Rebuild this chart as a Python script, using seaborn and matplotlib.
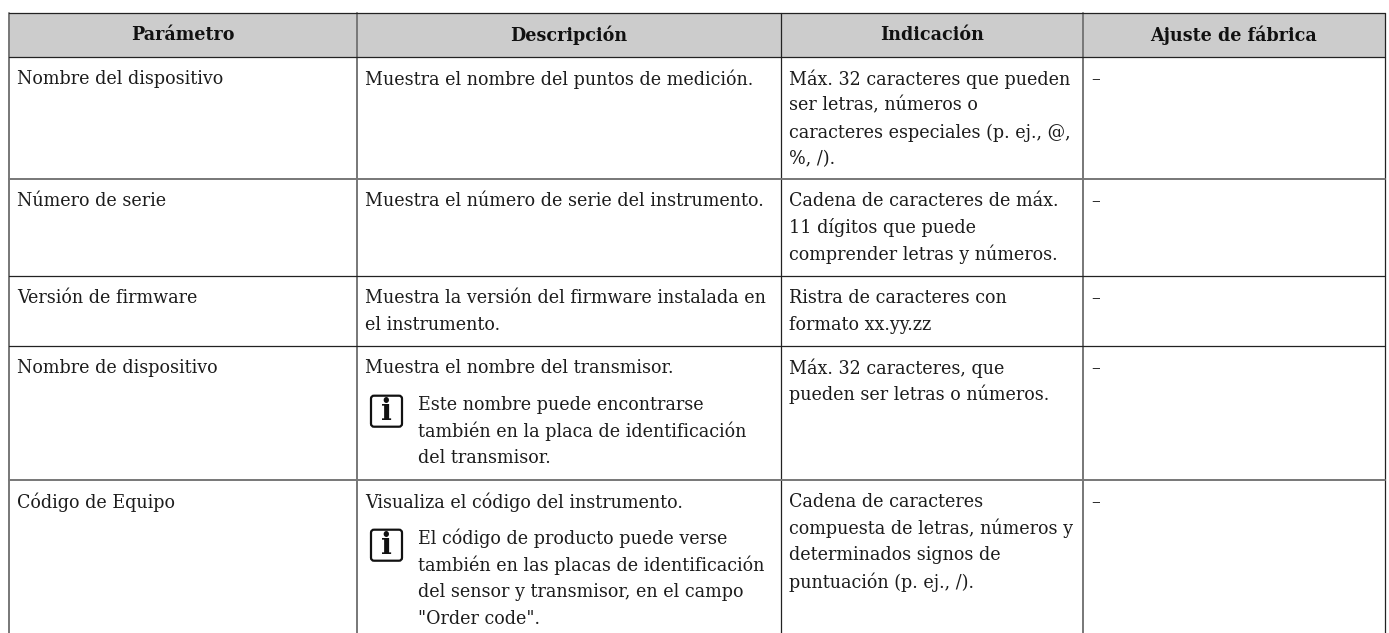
import matplotlib
matplotlib.use("Agg")
import matplotlib.pyplot as plt
from matplotlib.patches import FancyBboxPatch
import seaborn as sns

W, H = 1389, 633
HEADERS = ["Parámetro", "Descripción", "Indicación", "Ajuste de fábrica"]
COLUMN_EDGES = [9, 357, 781, 1083, 1385]
COLUMN_LINE_GRAY = [True, True, False, True, False]
ROW_EDGES = [13, 57, 179, 276, 346, 480, 633]
ROW_LINE_GRAY = [False, False, True, False, False, True]
PARAMS = ["Nombre del dispositivo", "Número de serie", "Versión de firmware",
          "Nombre de dispositivo", "Código de Equipo"]
DESCRIPTIONS = [
    ["Muestra el nombre del puntos de medición."],
    ["Muestra el número de serie del instrumento."],
    ["Muestra la versión del firmware instalada en", "el instrumento."],
    ["Muestra el nombre del transmisor."],
    ["Visualiza el código del instrumento."],
]
NOTES = [
    None, None, None,
    ["Este nombre puede encontrarse", "también en la placa de identificación", "del transmisor."],
    ["El código de producto puede verse", "también en las placas de identificación",
     "del sensor y transmisor, en el campo", "\"Order code\"."],
]
INDICATIONS = [
    ["Máx. 32 caracteres que pueden", "ser letras, números o",
     "caracteres especiales (p. ej., @,", "%, /)."],
    ["Cadena de caracteres de máx.", "11 dígitos que puede", "comprender letras y números."],
    ["Ristra de caracteres con", "formato xx.yy.zz"],
    ["Máx. 32 caracteres, que", "pueden ser letras o números."],
    ["Cadena de caracteres", "compuesta de letras, números y",
     "determinados signos de", "puntuación (p. ej., /)."],
]
DEFAULTS = ["–", "–", "–", "–", "–"]

sns.set_theme(style="white")
plt.rcParams["font.family"] = ["DejaVu Serif"]
FS = 12.65
INK = "#1c1c1c"
LH = 26.7


def line_style(gray):
    return dict(color="#777777", lw=1.4) if gray else dict(color="#222222", lw=0.9)


fig = plt.figure(figsize=(W / 100, H / 100), dpi=100)
ax = fig.add_axes([0, 0, 1, 1])
ax.set_xlim(0, W)
ax.set_ylim(H, 0)
ax.axis("off")

ax.fill_between([COLUMN_EDGES[0], COLUMN_EDGES[-1]], ROW_EDGES[0], ROW_EDGES[1],
                color="#cccccc", lw=0, zorder=0)
for x, gray in zip(COLUMN_EDGES, COLUMN_LINE_GRAY):
    ax.plot([x, x], [ROW_EDGES[0], ROW_EDGES[-1]], zorder=2, **line_style(gray))
for y, gray in zip(ROW_EDGES[:-1], ROW_LINE_GRAY):
    ax.plot([COLUMN_EDGES[0], COLUMN_EDGES[-1]], [y, y], zorder=3, **line_style(gray))

for j, h in enumerate(HEADERS):
    ax.text((COLUMN_EDGES[j] + COLUMN_EDGES[j + 1]) / 2, 33, h, ha="center", va="center_baseline",
            fontsize=FS, fontweight="bold", color="#111111")

PAD = 8
for r in range(5):
    y0 = ROW_EDGES[r + 1] + 20
    ax.text(COLUMN_EDGES[0] + PAD, y0, PARAMS[r], va="center_baseline", fontsize=FS, color=INK)
    y = y0
    for line in DESCRIPTIONS[r]:
        ax.text(COLUMN_EDGES[1] + PAD, y, line, va="center_baseline", fontsize=FS, color=INK)
        y += LH
    if NOTES[r]:
        y += 10
        ax.add_patch(FancyBboxPatch((COLUMN_EDGES[1] + 14, y - 7), 31, 31,
                                    boxstyle="round,pad=0,rounding_size=3",
                                    fc="white", ec="#111111", lw=1.6, zorder=3))
        ax.text(COLUMN_EDGES[1] + 29.5, y + 8.5, "i", ha="center", va="center",
                fontsize=FS + 8, fontweight="bold", color="#111111", zorder=4)
        for line in NOTES[r]:
            ax.text(COLUMN_EDGES[1] + 61, y, line, va="center_baseline", fontsize=FS, color=INK)
            y += LH
    y = y0
    for line in INDICATIONS[r]:
        ax.text(COLUMN_EDGES[2] + PAD, y, line, va="center_baseline", fontsize=FS, color=INK)
        y += LH
    ax.text(COLUMN_EDGES[3] + PAD, y0, DEFAULTS[r], va="center_baseline", fontsize=FS, color=INK)

fig.savefig("out.png", dpi=100, facecolor="white")
